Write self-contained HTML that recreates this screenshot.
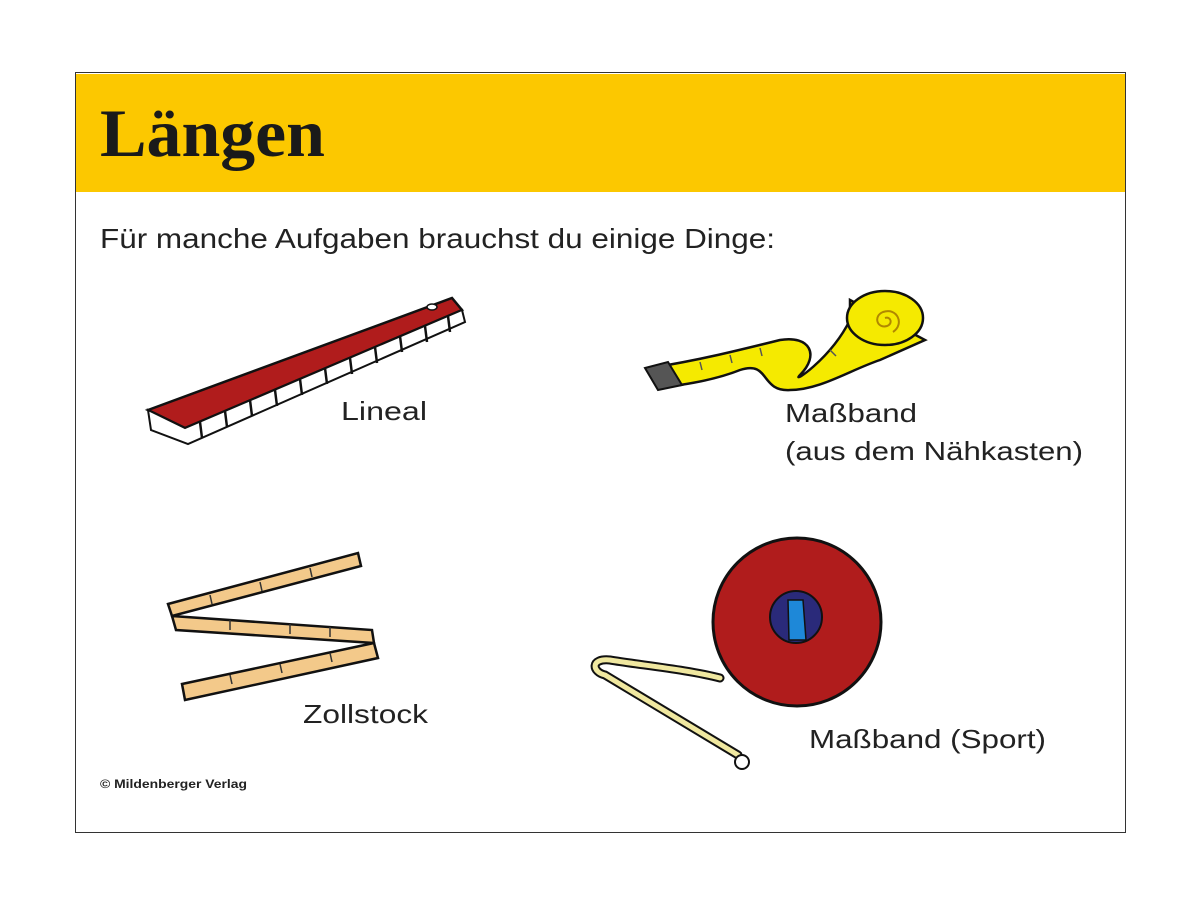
<!DOCTYPE html>
<html><head><meta charset="utf-8"><style>
html,body{margin:0;padding:0;background:#fff;width:1200px;height:900px;overflow:hidden}
svg{display:block}
.t{font-family:"Liberation Sans",sans-serif;fill:#222}
</style></head><body>
<svg width="1200" height="900" viewBox="0 0 1200 900" xmlns="http://www.w3.org/2000/svg">
<rect x="75.5" y="72.5" width="1050" height="760" fill="#fff" stroke="#333" stroke-width="1"/>
<rect x="76" y="74" width="1049" height="118" fill="#fcc800"/>
<text x="100" y="156" font-family="Liberation Serif,serif" font-weight="bold" font-size="68" fill="#1a1a1a" textLength="225" lengthAdjust="spacingAndGlyphs">Längen</text>
<text class="t" x="100" y="248" font-size="28" textLength="675" lengthAdjust="spacingAndGlyphs">Für manche Aufgaben brauchst du einige Dinge:</text>

<!-- Lineal -->
<polygon points="148,410 452,298 462,310 185,428" fill="#b01c1c" stroke="#111" stroke-width="2.5"/>
<polygon points="148,410 185,428 462,310 465,322 188,444 151,430" fill="#fff" stroke="#111" stroke-width="2"/>
<g stroke="#111" stroke-width="2.5">
<line x1="200" y1="422" x2="202" y2="438"/><line x1="225" y1="411" x2="227" y2="427"/><line x1="250" y1="400" x2="252" y2="416"/><line x1="275" y1="390" x2="277" y2="406"/><line x1="300" y1="379" x2="302" y2="395"/><line x1="325" y1="368" x2="327" y2="384"/><line x1="350" y1="358" x2="352" y2="374"/><line x1="375" y1="347" x2="377" y2="363"/><line x1="400" y1="336" x2="402" y2="352"/><line x1="425" y1="326" x2="427" y2="342"/><line x1="448" y1="316" x2="450" y2="332"/>
</g>
<ellipse cx="432" cy="307" rx="5" ry="3" fill="#fff" stroke="#111" stroke-width="1.5"/>
<text class="t" x="341" y="420" font-size="26" textLength="86" lengthAdjust="spacingAndGlyphs">Lineal</text>

<!-- Maßband -->
<path d="M650,368 C700,360 740,350 780,340 C810,335 820,355 800,375 C790,385 830,360 850,320 L850,300 L925,340 L880,360 C850,370 820,390 790,390 C760,392 770,360 740,370 C720,378 700,382 680,385 Z" fill="#f5ea00" stroke="#111" stroke-width="2.5"/>
<ellipse cx="885" cy="318" rx="38" ry="27" fill="#f5ea00" stroke="#111" stroke-width="2.5"/>
<path d="M885,318 c6,-2 8,6 2,8 c-10,3 -14,-10 -4,-14 c14,-5 22,12 10,20" fill="none" stroke="#b08800" stroke-width="2"/>
<g stroke="#555" stroke-width="1.5"><line x1="700" y1="362" x2="702" y2="370"/><line x1="730" y1="355" x2="732" y2="363"/><line x1="760" y1="348" x2="762" y2="356"/><line x1="830" y1="350" x2="836" y2="356"/></g>
<polygon points="645,368 668,362 682,385 658,390" fill="#555" stroke="#111" stroke-width="2"/>
<text class="t" x="785" y="422" font-size="26" textLength="132" lengthAdjust="spacingAndGlyphs">Maßband</text>
<text class="t" x="785" y="460" font-size="26" textLength="298" lengthAdjust="spacingAndGlyphs">(aus dem Nähkasten)</text>

<!-- Zollstock -->
<g fill="#f3c98a" stroke="#111" stroke-width="2.5">
<polygon points="168,604 358,553 361,566 172,616"/>
<polygon points="172,616 372,630 374,643 176,630"/>
<polygon points="374,643 182,684 185,700 378,658"/>
</g>
<g stroke="#333" stroke-width="1.5"><line x1="210" y1="595" x2="212" y2="604"/><line x1="260" y1="582" x2="262" y2="591"/><line x1="310" y1="568" x2="312" y2="577"/><line x1="230" y1="620" x2="230" y2="630"/><line x1="290" y1="624" x2="290" y2="634"/><line x1="330" y1="627" x2="330" y2="637"/><line x1="230" y1="675" x2="232" y2="684"/><line x1="280" y1="664" x2="282" y2="673"/><line x1="330" y1="653" x2="332" y2="662"/></g>
<text class="t" x="303" y="723" font-size="26" textLength="125" lengthAdjust="spacingAndGlyphs">Zollstock</text>

<!-- Maßband Sport -->
<path d="M720,678 C690,670 640,665 610,660 C590,658 592,672 605,675 C630,690 680,720 738,755" fill="none" stroke="#111" stroke-width="9" stroke-linecap="round"/>
<path d="M720,678 C690,670 640,665 610,660 C590,658 592,672 605,675 C630,690 680,720 738,755" fill="none" stroke="#f0e8a0" stroke-width="5" stroke-linecap="round"/>
<circle cx="742" cy="762" r="7" fill="#fff" stroke="#111" stroke-width="2"/>
<circle cx="797" cy="622" r="84" fill="#b01c1c" stroke="#111" stroke-width="3"/>
<circle cx="796" cy="617" r="26" fill="#2a2a7a" stroke="#111" stroke-width="2"/>
<polygon points="788,600 803,600 806,640 789,640" fill="#1e88d8" stroke="#111" stroke-width="1.5"/>
<text class="t" x="809" y="748" font-size="26" textLength="237" lengthAdjust="spacingAndGlyphs">Maßband (Sport)</text>

<text x="100" y="788" font-family="Liberation Sans,sans-serif" font-weight="bold" font-size="12" fill="#222" textLength="147" lengthAdjust="spacingAndGlyphs">© Mildenberger Verlag</text>
</svg>
</body></html>
